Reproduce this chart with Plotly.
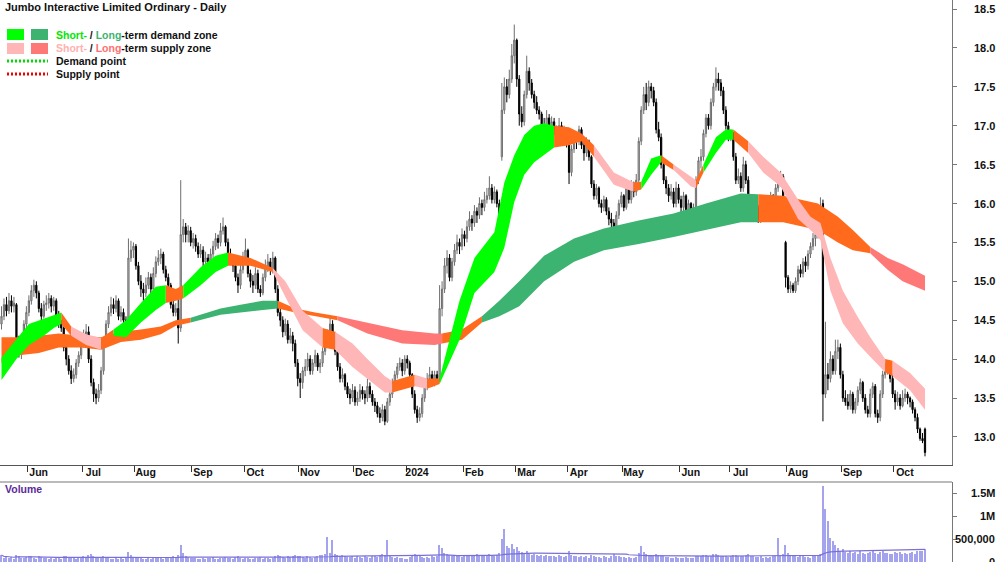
import pandas as pd
import plotly.graph_objects as go

# ---------------- data ----------------
start_date = "2023-05-17"

open_ = [
 14.45,14.55,14.70,14.62,14.75,14.68,14.70,14.22,14.10,14.18,
 14.45,14.60,14.75,14.88,14.95,14.85,14.65,14.55,14.70,14.72,
 14.78,14.68,14.75,14.55,14.45,14.40,14.15,14.00,13.85,13.75,
 13.80,13.95,14.05,14.20,14.30,14.35,14.00,13.70,13.55,13.50,
 13.60,13.85,14.20,14.45,14.60,14.70,14.65,14.75,14.55,14.60,
 14.50,14.30,15.30,15.40,15.45,15.20,15.00,14.90,14.85,14.95,
 15.05,14.90,15.10,15.25,15.30,15.35,15.15,15.05,14.95,14.70,
 14.60,14.65,14.40,15.60,15.70,15.60,15.65,15.50,15.55,15.45,
 15.35,15.40,15.25,15.30,15.20,15.35,15.45,15.55,15.50,15.65,
 15.70,15.50,15.35,15.30,15.20,15.05,14.95,15.15,15.30,15.40,
 15.10,15.00,14.95,15.10,14.90,14.85,15.05,15.20,15.25,15.15,
 15.30,14.90,14.60,14.50,14.35,14.45,14.25,14.30,14.20,13.95,
 13.75,13.70,13.85,13.90,14.00,13.85,13.95,14.05,13.90,13.95,
 14.10,14.20,14.30,14.45,14.30,14.10,13.90,13.75,13.80,13.65,
 13.55,13.50,13.60,13.45,13.50,13.60,13.55,13.50,13.65,13.55,
 13.45,13.40,13.30,13.25,13.35,13.20,13.45,13.55,13.70,13.80,
 13.90,13.95,13.85,14.00,13.95,13.80,13.55,13.35,13.25,13.30,
 13.50,13.65,13.75,13.80,13.70,13.80,13.75,14.65,14.90,15.20,
 15.30,15.05,15.25,15.40,15.50,15.45,15.60,15.55,15.70,15.80,
 15.75,15.90,15.85,16.00,15.95,16.05,16.10,16.20,16.05,16.15,
 16.00,16.60,17.20,17.50,17.40,17.60,17.90,18.10,17.60,17.15,
 17.05,17.40,17.70,17.55,17.40,17.30,17.20,17.15,17.00,16.95,
 17.10,16.90,17.05,16.95,16.90,17.00,16.85,16.95,16.80,16.40,
 16.70,16.85,16.80,16.95,16.75,16.65,16.80,16.60,16.25,16.10,
 16.20,16.00,15.95,16.05,15.90,15.80,15.75,15.60,15.85,16.00,
 16.10,15.95,16.20,16.05,16.25,16.15,16.30,16.80,17.20,17.40,
 17.30,17.50,17.45,17.30,16.95,16.85,16.50,16.30,16.20,16.10,
 16.15,16.00,16.20,16.05,15.95,16.10,15.90,16.00,15.85,15.95,
 16.30,16.55,16.60,16.90,17.10,17.00,17.30,17.50,17.60,17.55,
 17.45,17.20,17.00,16.85,16.90,16.60,16.30,16.35,16.20,16.50,
 16.30,15.95,16.00,15.85,15.95,15.80,15.90,16.00,15.90,16.05,
 16.10,15.95,16.20,16.30,16.35,15.50,15.05,14.90,14.95,14.88,
 15.00,15.15,15.10,15.25,15.20,15.35,15.45,15.55,15.60,15.75,
 16.00,13.55,13.80,13.75,14.00,13.85,14.10,14.15,13.80,13.50,
 13.45,13.40,13.55,13.35,13.45,13.60,13.70,13.50,13.35,13.30,
 13.55,13.65,13.30,13.25,13.55,13.80,13.85,13.90,13.75,13.55,
 13.45,13.50,13.40,13.50,13.55,13.50,13.45,13.35,13.25,13.10,
 12.98,13.10]

high = [
 14.68,14.78,14.80,14.85,14.82,14.80,14.72,14.30,14.25,14.50,
 14.68,14.82,14.95,15.02,15.00,14.88,14.72,14.75,14.82,14.85,
 14.82,14.80,14.78,14.62,14.50,14.42,14.20,14.05,13.92,13.88,
 14.00,14.10,14.25,14.38,14.45,14.42,14.05,13.75,13.62,13.68,
 13.90,14.25,14.50,14.68,14.80,14.78,14.82,14.78,14.68,14.65,
 14.55,15.55,15.52,15.50,15.48,15.25,15.08,14.98,15.05,15.12,
 15.10,15.18,15.32,15.40,15.42,15.38,15.20,15.10,14.98,14.75,
 14.72,14.85,16.30,15.80,15.75,15.72,15.70,15.62,15.60,15.50,
 15.48,15.45,15.38,15.35,15.42,15.52,15.62,15.60,15.75,15.82,
 15.72,15.55,15.42,15.35,15.25,15.10,15.22,15.38,15.55,15.42,
 15.15,15.08,15.18,15.15,14.95,15.10,15.28,15.35,15.30,15.38,
 15.32,14.95,14.65,14.55,14.52,14.50,14.40,14.35,14.25,14.00,
 13.82,13.90,14.00,14.08,14.05,14.00,14.12,14.08,14.00,14.15,
 14.28,14.38,14.55,14.50,14.35,14.15,13.95,13.88,13.82,13.70,
 13.62,13.68,13.65,13.58,13.68,13.65,13.60,13.75,13.70,13.60,
 13.50,13.45,13.38,13.42,13.40,13.50,13.62,13.75,13.85,13.95,
 14.02,14.00,14.05,14.05,13.98,13.82,13.60,13.40,13.38,13.55,
 13.70,13.82,13.90,13.85,13.85,13.85,14.95,15.00,15.30,15.40,
 15.35,15.30,15.48,15.60,15.55,15.68,15.65,15.78,15.90,15.85,
 15.98,15.95,16.08,16.05,16.15,16.20,16.35,16.25,16.22,16.18,
 16.05,17.55,17.62,17.60,17.72,18.05,18.30,18.12,17.65,17.25,
 17.45,17.90,17.75,17.60,17.45,17.38,17.25,17.18,17.10,17.20,
 17.15,17.12,17.10,17.00,17.10,17.05,17.00,16.98,16.82,16.75,
 16.92,16.90,17.00,16.98,16.80,16.85,16.82,16.62,16.30,16.25,
 16.22,16.05,16.10,16.08,15.95,15.88,15.80,15.90,16.05,16.15,
 16.12,16.25,16.25,16.30,16.28,16.38,16.85,17.25,17.50,17.55,
 17.58,17.55,17.50,17.35,17.05,16.90,16.55,16.35,16.25,16.25,
 16.20,16.28,16.25,16.10,16.15,16.12,16.05,16.02,16.00,16.35,
 16.60,16.70,16.95,17.15,17.15,17.35,17.55,17.75,17.68,17.60,
 17.50,17.25,17.05,16.95,16.92,16.65,16.45,16.40,16.60,16.55,
 16.35,16.05,16.05,16.00,15.98,15.95,16.08,16.02,16.10,16.15,
 16.12,16.25,16.38,16.42,16.38,15.52,15.08,15.00,14.98,15.05,
 15.20,15.22,15.30,15.32,15.40,15.50,15.62,15.65,15.80,16.08,
 16.05,14.48,13.95,14.10,14.05,14.25,14.25,14.20,13.85,13.60,
 13.55,13.60,13.58,13.50,13.65,13.75,13.72,13.55,13.40,13.62,
 13.70,13.68,13.35,13.60,13.85,13.95,13.98,13.92,13.80,13.60,
 13.58,13.55,13.60,13.62,13.58,13.52,13.48,13.38,13.30,13.12,
 13.05,13.12]

low = [
 14.38,14.50,14.55,14.58,14.60,14.60,14.15,14.02,14.00,14.15,
 14.40,14.55,14.70,14.80,14.78,14.60,14.50,14.52,14.62,14.65,
 14.60,14.62,14.50,14.40,14.35,14.10,13.92,13.80,13.68,13.70,
 13.75,13.90,14.00,14.15,14.25,13.95,13.65,13.45,13.42,13.45,
 13.55,13.80,14.15,14.40,14.55,14.58,14.60,14.50,14.48,14.40,
 14.25,14.25,15.25,15.30,15.15,14.95,14.80,14.75,14.80,14.90,
 14.85,14.85,15.05,15.20,15.22,15.10,15.00,14.90,14.65,14.55,
 14.55,14.20,14.35,15.50,15.50,15.50,15.45,15.42,15.38,15.30,
 15.30,15.18,15.20,15.12,15.15,15.30,15.40,15.42,15.45,15.60,
 15.45,15.30,15.25,15.12,15.00,14.85,14.90,15.10,15.25,15.05,
 14.92,14.85,14.90,14.85,14.80,14.82,15.00,15.12,15.08,15.10,
 14.85,14.55,14.42,14.28,14.30,14.20,14.20,14.10,13.90,13.65,
 13.50,13.62,13.78,13.85,13.80,13.80,13.90,13.85,13.82,13.90,
 14.05,14.15,14.25,14.25,14.05,13.85,13.70,13.70,13.60,13.50,
 13.42,13.45,13.40,13.40,13.45,13.48,13.42,13.45,13.50,13.40,
 13.32,13.25,13.18,13.20,13.15,13.18,13.40,13.50,13.65,13.75,
 13.85,13.78,13.80,13.88,13.75,13.50,13.30,13.18,13.20,13.25,
 13.45,13.60,13.70,13.65,13.65,13.68,13.70,14.55,14.85,15.10,
 15.00,15.00,15.20,15.35,15.35,15.40,15.45,15.50,15.65,15.65,
 15.70,15.75,15.80,15.85,15.90,16.00,16.05,16.00,16.00,15.95,
 15.80,16.55,17.15,17.30,17.35,17.55,17.80,17.50,17.00,16.98,
 17.00,17.35,17.45,17.35,17.22,17.15,17.08,16.90,16.85,16.90,
 16.82,16.85,16.88,16.80,16.85,16.78,16.80,16.72,16.25,16.35,
 16.65,16.70,16.75,16.70,16.55,16.60,16.55,16.20,16.05,16.05,
 15.95,15.88,15.90,15.85,15.72,15.68,15.45,15.55,15.80,15.95,
 15.90,15.92,16.00,16.00,16.08,16.10,16.25,16.75,17.15,17.20,
 17.25,17.35,17.25,16.90,16.80,16.45,16.25,16.12,16.02,16.05,
 15.95,15.95,16.00,15.88,15.90,15.85,15.85,15.80,15.80,15.90,
 16.25,16.45,16.55,16.85,16.95,16.95,17.25,17.45,17.45,17.38,
 17.15,16.95,16.80,16.80,16.55,16.25,16.25,16.15,16.15,16.25,
 15.90,15.88,15.80,15.80,15.75,15.75,15.85,15.85,15.85,16.00,
 15.92,15.92,16.15,16.22,15.82,14.92,14.85,14.85,14.85,14.85,
 14.95,15.05,15.05,15.12,15.15,15.30,15.40,15.45,15.55,15.70,
 13.20,13.50,13.60,13.70,13.80,13.80,14.00,13.75,13.45,13.40,
 13.35,13.35,13.30,13.30,13.40,13.55,13.45,13.30,13.25,13.25,
 13.50,13.25,13.18,13.20,13.50,13.75,13.80,13.70,13.50,13.35,
 13.40,13.35,13.38,13.45,13.42,13.38,13.30,13.20,13.05,12.95,
 12.92,12.75]

close = [
 14.55,14.70,14.62,14.75,14.68,14.72,14.22,14.10,14.18,14.45,
 14.60,14.75,14.88,14.95,14.85,14.65,14.55,14.70,14.72,14.78,
 14.68,14.75,14.55,14.45,14.40,14.15,14.00,13.85,13.75,13.80,
 13.95,14.05,14.20,14.30,14.35,14.00,13.70,13.55,13.50,13.60,
 13.85,14.20,14.45,14.60,14.70,14.65,14.75,14.55,14.60,14.50,
 14.30,15.30,15.40,15.45,15.20,15.00,14.90,14.85,14.95,15.05,
 14.90,15.10,15.25,15.30,15.35,15.15,15.05,14.95,14.70,14.60,
 14.65,14.40,15.60,15.70,15.60,15.65,15.50,15.55,15.45,15.35,
 15.40,15.25,15.30,15.20,15.35,15.45,15.55,15.50,15.65,15.70,
 15.50,15.35,15.30,15.20,15.05,14.95,15.15,15.30,15.40,15.10,
 15.00,14.95,15.10,14.90,14.85,15.05,15.20,15.25,15.15,15.30,
 14.90,14.60,14.50,14.35,14.45,14.25,14.30,14.20,13.95,13.75,
 13.70,13.85,13.90,14.00,13.85,13.95,14.05,13.90,13.95,14.10,
 14.20,14.30,14.45,14.30,14.10,13.90,13.75,13.80,13.65,13.55,
 13.50,13.60,13.45,13.50,13.60,13.55,13.50,13.65,13.55,13.45,
 13.40,13.30,13.25,13.35,13.20,13.45,13.55,13.70,13.80,13.90,
 13.95,13.85,14.00,13.95,13.80,13.55,13.35,13.25,13.30,13.50,
 13.65,13.75,13.80,13.70,13.80,13.75,14.65,14.90,15.20,15.30,
 15.05,15.25,15.40,15.50,15.45,15.60,15.55,15.70,15.80,15.75,
 15.90,15.85,16.00,15.95,16.05,16.10,16.20,16.05,16.15,16.00,
 15.85,17.20,17.50,17.40,17.60,17.90,18.10,17.60,17.15,17.05,
 17.40,17.70,17.55,17.40,17.30,17.20,17.15,17.00,16.95,17.10,
 16.90,17.05,16.95,16.90,17.00,16.85,16.95,16.80,16.40,16.70,
 16.85,16.80,16.95,16.75,16.65,16.80,16.60,16.25,16.10,16.20,
 16.00,15.95,16.05,15.90,15.80,15.75,15.60,15.85,16.00,16.10,
 15.95,16.20,16.05,16.25,16.15,16.30,16.80,17.20,17.40,17.30,
 17.50,17.45,17.30,16.95,16.85,16.50,16.30,16.20,16.10,16.15,
 16.00,16.20,16.05,15.95,16.10,15.90,16.00,15.85,15.95,16.30,
 16.55,16.60,16.90,17.10,17.00,17.30,17.50,17.60,17.55,17.45,
 17.20,17.00,16.85,16.90,16.60,16.30,16.35,16.20,16.50,16.30,
 15.95,16.00,15.85,15.95,15.80,15.90,16.00,15.90,16.05,16.10,
 15.95,16.20,16.30,16.35,15.85,15.05,14.90,14.95,14.88,15.00,
 15.15,15.10,15.25,15.20,15.35,15.45,15.55,15.60,15.75,15.90,
 13.55,13.80,13.75,14.00,13.85,14.10,14.15,13.80,13.50,13.45,
 13.40,13.55,13.35,13.45,13.60,13.70,13.50,13.35,13.30,13.55,
 13.65,13.30,13.25,13.55,13.80,13.85,13.90,13.75,13.55,13.45,
 13.50,13.40,13.50,13.55,13.50,13.45,13.35,13.25,13.10,12.98,
 12.95,12.80]

volume_k = [
 150,90,120,80,110,70,160,130,95,85,
 100,140,120,90,75,130,110,80,95,70,
 85,60,100,90,75,120,140,110,95,80,
 70,90,85,130,100,150,180,120,90,80,
 110,130,95,80,70,60,85,75,90,70,
 80,220,150,110,100,90,85,70,65,80,
 75,90,110,95,80,70,85,100,90,120,
 110,150,380,200,140,110,95,80,90,75,
 70,85,65,90,80,100,75,70,95,85,
 110,90,80,75,100,120,85,70,90,80,
 75,65,90,80,100,70,85,95,75,80,
 140,160,120,110,95,130,100,120,150,140,
 130,110,95,120,100,90,110,140,150,160,
 170,540,200,480,170,150,130,160,120,110,
 100,130,95,120,110,90,140,100,85,120,
 130,110,150,180,160,470,120,100,90,110,
 95,85,70,60,110,150,180,140,120,100,
 90,110,95,130,100,120,380,300,200,180,
 160,140,150,120,130,110,160,140,120,150,
 130,170,140,150,160,130,180,150,140,160,
 190,500,720,350,300,400,280,320,250,220,
 200,230,180,160,170,150,140,160,130,150,
 140,120,130,110,150,120,100,130,250,160,
 140,120,110,130,100,120,90,150,130,110,
 100,95,120,110,90,130,180,140,120,100,
 110,90,100,85,95,110,200,350,220,180,
 160,140,130,170,150,140,120,110,100,90,
 85,100,90,80,95,110,85,80,90,120,
 140,130,150,160,120,140,170,180,150,130,
 140,120,110,130,150,160,140,120,130,150,
 170,130,120,110,100,120,95,110,90,100,
 120,140,520,160,180,380,200,150,130,120,
 110,130,120,100,110,90,120,130,140,170,
 1650,1150,900,520,450,380,300,250,280,220,
 200,240,190,210,180,230,200,170,190,220,
 250,200,180,210,230,190,200,180,170,210,
 190,220,180,200,170,190,210,180,230,250,
 240,280]

# Short-term zone (bar index, upper edge, lower edge, state of following stretch)
short_idx = [0,6,11,17,21,24,28,34,40,45,50,56,62,66,70,73,80,86,91,100,
             109,114,121,129,134,141,147,154,157,166,171,176,184,190,198,202,206,210,214,218,
             222,228,233,238,246,254,257,261,265,270,277,279,282,287,291,294,300,306,313,320,
             325,329,333,338,344,349,355,358,365,371]
short_up = [14.02,14.25,14.45,14.52,14.57,14.60,14.42,14.32,14.27,14.38,14.50,14.72,14.93,14.95,14.90,14.95,15.18,15.33,15.37,15.30,
            15.17,15.00,14.62,14.40,14.35,14.20,14.00,13.78,13.72,13.80,13.75,13.75,14.75,15.30,15.63,16.27,16.62,16.88,17.00,17.03,
            17.00,16.98,16.90,16.75,16.40,16.27,16.28,16.58,16.62,16.50,16.35,16.30,16.50,16.85,16.95,16.95,16.80,16.60,16.40,16.05,
            15.83,15.75,15.30,14.88,14.54,14.28,14.00,13.98,13.82,13.62]
short_lo = [13.73,14.00,14.18,14.30,14.40,14.45,14.30,14.18,14.12,14.30,14.28,14.47,14.63,14.72,14.75,14.78,14.95,15.12,15.20,15.20,
            15.12,14.80,14.37,14.15,14.12,13.90,13.75,13.57,13.57,13.65,13.62,13.68,14.25,14.85,15.12,15.43,16.02,16.37,16.53,16.62,
            16.72,16.75,16.80,16.60,16.24,16.15,16.18,16.37,16.53,16.43,16.22,16.20,16.40,16.65,16.82,16.82,16.65,16.40,16.22,15.80,
            15.66,15.53,14.88,14.46,14.20,14.03,13.83,13.78,13.60,13.35]
short_state = list("GGGGGOPPOGGGGOOGGGOOPPPOPPPPOPOGGGGGGGGG"
                   "OOOPPOGGOPPOGGGOPPPPPPPPPPOPP-")

# Long-term zone
long_idx = [0,7,15,23,32,40,48,56,64,70,76,88,96,105,111,118,126,135,147,161,
            174,177,185,193,200,208,218,230,242,256,270,283,297,304,314,328,336,342,349,356,
            362,371]
long_up = [14.28,14.28,14.30,14.33,14.30,14.28,14.35,14.38,14.42,14.50,14.53,14.65,14.70,14.75,14.75,14.65,14.60,14.55,14.47,14.37,
           14.33,14.33,14.38,14.55,14.75,15.00,15.33,15.55,15.68,15.78,15.87,16.00,16.13,16.12,16.10,16.00,15.83,15.66,15.44,15.30,
           15.22,15.07]
long_lo = [13.95,14.05,14.08,14.15,14.15,14.12,14.22,14.25,14.32,14.43,14.47,14.57,14.60,14.63,14.65,14.60,14.55,14.50,14.33,14.20,
           14.18,14.20,14.25,14.47,14.55,14.68,15.00,15.25,15.40,15.48,15.57,15.66,15.76,15.76,15.76,15.66,15.50,15.40,15.36,15.15,
           15.00,14.88]
long_state = list("OOOOOOOOOODDDDOOORRRROODDDDDDDDDDOOOOORRR-")

price_ticks = [13.0, 13.5, 14.0, 14.5, 15.0, 15.5, 16.0, 16.5, 17.0, 17.5, 18.0, 18.5]
volume_ticks = [0, 500000, 1000000, 1500000]
volume_tick_text = ["0", "500,000", "1M", "1.5M"]

# ---------------- styling ----------------
ZONE = {"G": "#00ff00", "D": "#3cb371", "P": "#ffb6b6", "R": "#ff7878", "O": "#ff6a1c"}
NARROW = "Liberation Sans Narrow, Arial Narrow, Liberation Sans, Arial, sans-serif"
W, H = 1000, 562
PLOT_R = 952          # right edge of plotting area (px)
PRICE_BOTTOM = 465    # px
VOL_TOP = 482         # px

n = len(close)
xi = list(range(n))
dates = pd.bdate_range(start_date, periods=n)

px_per_bar = (925 - 1.5) / (n - 1)
x_lo = -1.5 / px_per_bar
x_hi = x_lo + PLOT_R / px_per_bar

p_per_px = 0.5 / 38.9
y_top = 18.5 + 9 * p_per_px
y_bot = 18.5 - (PRICE_BOTTOM - 9) * p_per_px

fig = go.Figure()


def add_zone(idx, up, lo, state):
    start = 0
    m = len(idx)
    for i in range(1, m):
        if state[i] != state[start] or i == m - 1:
            seg = list(range(start, i + 1))
            xs = [idx[k] for k in seg] + [idx[k] for k in reversed(seg)]
            ys = [up[k] for k in seg] + [lo[k] for k in reversed(seg)]
            fig.add_trace(go.Scatter(x=xs, y=ys, mode="lines", fill="toself",
                                     fillcolor=ZONE[state[start]], line=dict(width=0),
                                     hoverinfo="skip", showlegend=False,
                                     xaxis="x", yaxis="y"))
            start = i


add_zone(long_idx, long_up, long_lo, long_state)
add_zone(short_idx, short_up, short_lo, short_state)

fig.add_trace(go.Candlestick(
    x=xi, open=open_, high=high, low=low, close=close,
    increasing=dict(line=dict(color="#6e6e6e", width=1), fillcolor="#c8c8c8"),
    decreasing=dict(line=dict(color="#000000", width=1), fillcolor="#000000"),
    whiskerwidth=0, hoverinfo="skip", showlegend=False, xaxis="x", yaxis="y"))

vol = [v * 1000 for v in volume_k]
vol_ma = pd.Series(vol).rolling(50, min_periods=1).mean()
fig.add_trace(go.Bar(x=xi, y=vol, marker=dict(color="#a4a4ee", line=dict(width=0)),
                     width=0.55, showlegend=False, hoverinfo="skip",
                     xaxis="x2", yaxis="y2"))
fig.add_trace(go.Scatter(x=xi, y=vol_ma, mode="lines", line=dict(color="#7b6fd6", width=1.2),
                         showlegend=False, hoverinfo="skip", xaxis="x2", yaxis="y2"))

# month ticks
tickvals, ticktext = [], []
for i in range(1, n):
    if dates[i].month != dates[i - 1].month:
        tickvals.append(i - 0.5)
        ticktext.append(str(dates[i].year) if dates[i].month == 1 else dates[i].strftime("%b"))

dom_x = [0, PLOT_R / W]
price_dom = [(H - PRICE_BOTTOM) / H, 1]
vol_dom = [0, (H - VOL_TOP) / H]
vol_max = 1.74e6
FS = 10.5

fig.update_layout(
    width=W, height=H, margin=dict(l=0, r=0, t=0, b=0),
    paper_bgcolor="white", plot_bgcolor="white", showlegend=False,
    xaxis=dict(domain=dom_x, range=[x_lo, x_hi], anchor="y", showgrid=False, zeroline=False,
               showline=True, linecolor="#555555", linewidth=1,
               tickvals=tickvals, ticktext=ticktext, ticks="outside", ticklen=6,
               tickcolor="#333333", ticklabelshift=11, ticklabelstandoff=-9,
               tickfont=dict(family=NARROW, size=FS, color="#111111", weight="bold"),
               rangeslider=dict(visible=False)),
    xaxis2=dict(domain=dom_x, matches="x", anchor="y2", showgrid=False, zeroline=False,
                showticklabels=False, showline=False, ticks=""),
    yaxis=dict(domain=price_dom, range=[y_bot, y_top], side="right", anchor="x",
               showgrid=False, zeroline=False, showline=True, linecolor="#777777",
               tickvals=price_ticks, ticks="outside", ticklen=4, tickcolor="#777777",
               showticklabels=False),
    yaxis2=dict(domain=vol_dom, range=[0, vol_max], side="right", anchor="x2",
                showgrid=False, zeroline=False, showline=True, linecolor="#777777",
                tickvals=volume_ticks, ticks="outside", ticklen=4, tickcolor="#777777",
                showticklabels=False),
    bargap=0,
)

ann = []
tick_font = dict(family=NARROW, size=11, color="#111111", weight="bold")
for v in price_ticks:
    ann.append(dict(x=0.997, y=v, xref="paper", yref="y", text=f"{v:.1f}",
                    showarrow=False, xanchor="right", yanchor="middle", font=tick_font))
for v, t in zip(volume_ticks, volume_tick_text):
    ann.append(dict(x=0.997, y=v, xref="paper", yref="y2", text=t,
                    showarrow=False, xanchor="right", yanchor="middle", font=tick_font))


def px(xp):
    return xp / W


def py(yp):
    return 1 - yp / H


lab_font = dict(family=NARROW, size=FS, color="#111111", weight="bold")
ann.append(dict(x=px(3), y=py(7), xref="paper", yref="paper", showarrow=False,
                xanchor="left", yanchor="middle",
                text="Jumbo Interactive Limited Ordinary - Daily",
                font=dict(family=NARROW, size=11, color="#111111", weight="bold")))
ann.append(dict(x=px(54), y=py(35), xref="paper", yref="paper", showarrow=False,
                xanchor="left", yanchor="middle", font=lab_font,
                text="<span style='color:#00e600'>Short-</span> / "
                     "<span style='color:#3cb371'>Long</span>-term demand zone"))
ann.append(dict(x=px(54), y=py(48), xref="paper", yref="paper", showarrow=False,
                xanchor="left", yanchor="middle", font=lab_font,
                text="<span style='color:#ffb0b0'>Short-</span> / "
                     "<span style='color:#ff7070'>Long</span>-term supply zone"))
ann.append(dict(x=px(54), y=py(61), xref="paper", yref="paper", showarrow=False,
                xanchor="left", yanchor="middle", font=lab_font, text="Demand point"))
ann.append(dict(x=px(54), y=py(74), xref="paper", yref="paper", showarrow=False,
                xanchor="left", yanchor="middle", font=lab_font, text="Supply point"))
ann.append(dict(x=px(3), y=py(489), xref="paper", yref="paper", showarrow=False,
                xanchor="left", yanchor="middle", text="Volume",
                font=dict(family=NARROW, size=FS, color="#5b2a9a", weight="bold")))

shapes = []
for (x0, x1, y0, y1, c) in [(7, 24, 29, 40, ZONE["G"]), (31, 48, 29, 40, ZONE["D"]),
                            (7, 24, 43, 54, ZONE["P"]), (31, 48, 43, 54, ZONE["R"])]:
    shapes.append(dict(type="rect", xref="paper", yref="paper", x0=px(x0), x1=px(x1),
                       y0=py(y1), y1=py(y0), fillcolor=c, line=dict(width=0)))
for (yy, c) in [(61, "#00dd00"), (74, "#ee0000")]:
    shapes.append(dict(type="line", xref="paper", yref="paper", x0=px(7), x1=px(48),
                       y0=py(yy), y1=py(yy), line=dict(color=c, width=3, dash="2px,2px")))
shapes.append(dict(type="line", xref="paper", yref="paper", x0=0, x1=PLOT_R / W,
                   y0=py(VOL_TOP), y1=py(VOL_TOP), line=dict(color="#777777", width=1)))

fig.update_layout(annotations=ann, shapes=shapes)
fig.write_html("out.html", config={"displayModeBar": False},
               post_script="document.body.style.margin='0';document.body.style.overflow='hidden';")
